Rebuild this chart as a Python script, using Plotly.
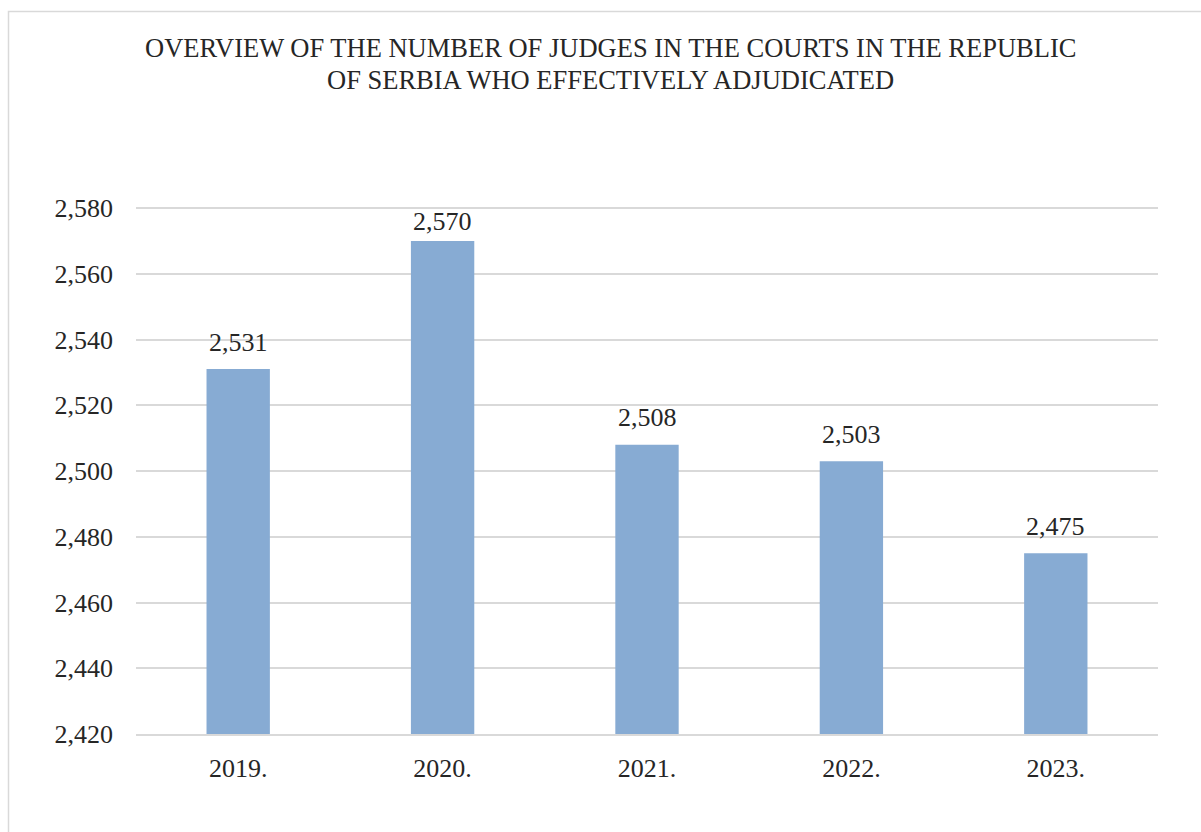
import plotly.graph_objects as go

years = ["2019.", "2020.", "2021.", "2022.", "2023."]
judges = [2531, 2570, 2508, 2503, 2475]
y_ticks = [2420, 2440, 2460, 2480, 2500, 2520, 2540, 2560, 2580]
title_lines = [
    "OVERVIEW OF THE NUMBER OF JUDGES IN THE COURTS IN THE REPUBLIC",
    "OF SERBIA WHO EFFECTIVELY ADJUDICATED",
]

FONT = "Liberation Serif, Times New Roman, serif"
TEXT = "#262626"
GRID = "#D9D9D9"
BAR = "#87ABD3"

W, H = 1201, 832
# pixel frame of the value axis: 2420 sits at y=734, 2580 at y=208
Y_LO, Y_HI = 2420, 2580
PX_LO, PX_HI = 734, 208
scale = (PX_LO - PX_HI) / (Y_HI - Y_LO)
T = 204
y_top = Y_LO + (PX_LO - T) / scale
L, R, B = 136, 43, H - PX_LO
pw, ph = W - L - R, H - T - B


def px_x(x):
    return (x - L) / pw


def px_y(y):
    return (H - B - y) / ph


def val_px(v):
    return PX_LO - (v - Y_LO) * scale


fig = go.Figure(
    go.Bar(
        x=years,
        y=judges,
        marker=dict(color=BAR, line=dict(width=0)),
        width=0.31,
        hoverinfo="x+y",
    )
)

annotations = []
for i, v in enumerate(judges):
    # value label centred above its bar, kept inside the plotting frame
    centre = max(val_px(v) - 27, PX_HI + 13)
    annotations.append(
        dict(
            x=i, y=v, xref="x", yref="y",
            text=f"{v:,}", showarrow=False,
            yanchor="middle", yshift=val_px(v) - centre,
            font=dict(family=FONT, size=26, color=TEXT),
        )
    )

for i, line in enumerate(title_lines):
    annotations.append(
        dict(
            x=px_x(610), y=px_y(48 + 32 * i), xref="paper", yref="paper",
            text=line, showarrow=False, xanchor="center", yanchor="middle",
            font=dict(family=FONT, size=26.5, color=TEXT),
        )
    )

fig.update_layout(
    width=W,
    height=H,
    margin=dict(l=L, r=R, t=T, b=B, pad=0),
    paper_bgcolor="white",
    plot_bgcolor="white",
    showlegend=False,
    annotations=annotations,
    shapes=[
        dict(
            type="rect", xref="paper", yref="paper",
            x0=px_x(8.5), x1=px_x(1240), y0=px_y(870), y1=px_y(11.5),
            line=dict(color=GRID, width=1.5), fillcolor="rgba(0,0,0,0)",
            layer="below",
        )
    ],
    xaxis=dict(
        type="category",
        range=[-0.5, len(years) - 0.5],
        showgrid=False,
        showline=True,
        linecolor=GRID,
        linewidth=1.5,
        ticks="",
        tickfont=dict(family=FONT, size=26, color=TEXT),
        ticklabelstandoff=10,
        zeroline=False,
    ),
    yaxis=dict(
        range=[Y_LO, y_top],
        tickvals=y_ticks,
        ticktext=[f"{v:,}" for v in y_ticks],
        showgrid=True,
        gridcolor=GRID,
        gridwidth=1.5,
        showline=False,
        zeroline=False,
        ticks="",
        tickfont=dict(family=FONT, size=26, color=TEXT),
        ticklabelstandoff=22,
    ),
)

fig.write_html("out.html")
